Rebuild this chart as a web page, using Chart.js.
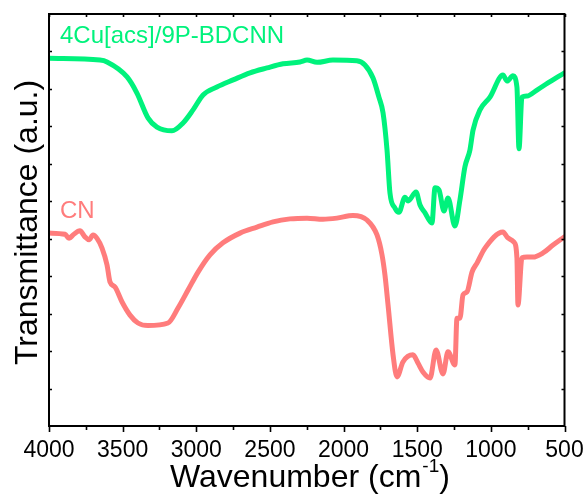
<!DOCTYPE html>
<html lang="en">
<head>
  <meta charset="utf-8">
  <title>FTIR</title>
  <script src="https://cdn.jsdelivr.net/npm/chart.js"></script>
  <style>
    body { margin: 0; background: #fff; }
  </style>
</head>
<body>
  <canvas id="ftir" width="587" height="495"></canvas>
<script>
  // FTIR spectra, wavenumber (cm-1) vs. offset transmittance
  const wnCu = [4000, 3654, 3606, 3470, 3403, 3327, 3267, 3165, 3090, 3022,
    2954, 2860, 2750, 2635, 2520, 2411, 2296, 2248, 2180, 2072,
    1910, 1855, 1800, 1760, 1732, 1705, 1685, 1651, 1624, 1583,
    1562, 1508, 1481, 1447, 1400, 1379, 1352, 1318, 1291, 1244,
    1210, 1176, 1142, 1121, 1074, 1006, 918, 890, 850, 823,
    809, 789, 755, 687, 612, 500];
  const tCu = [9.82, 9.77, 9.72, 9.32, 8.89, 8.22, 7.98, 7.88, 8.09, 8.44,
    8.84, 9.05, 9.24, 9.43, 9.56, 9.67, 9.72, 9.77, 9.71, 9.77,
    9.75, 9.64, 9.29, 8.78, 8.36, 7.37, 6.22, 5.82, 5.71, 6.11,
    6.01, 6.25, 5.90, 5.69, 5.42, 6.36, 6.30, 5.74, 6.09, 5.34,
    6.03, 6.92, 7.37, 7.90, 8.44, 8.78, 9.37, 9.21, 9.35, 9.05,
    7.40, 8.78, 8.81, 8.97, 9.16, 9.43];

  const wnCN = [4000, 3891, 3864, 3837, 3790, 3756, 3728, 3701, 3674, 3640,
    3606, 3586, 3552, 3504, 3450, 3396, 3328, 3192, 3124, 3056,
    2988, 2907, 2819, 2703, 2588, 2479, 2364, 2248, 2140, 2045,
    1936, 1841, 1773, 1739, 1719, 1698, 1664, 1637, 1597, 1529,
    1495, 1461, 1413, 1372, 1325, 1291, 1244, 1230, 1210, 1189,
    1162, 1128, 1094, 1040, 918, 884, 843, 823, 816, 789,
    755, 714, 646, 578, 500];
  const tCN = [5.15, 5.12, 5.01, 5.10, 5.21, 5.05, 4.97, 5.10, 5.01, 4.75,
    4.30, 3.85, 3.71, 3.31, 2.96, 2.75, 2.68, 2.75, 3.15, 3.63,
    4.11, 4.57, 4.89, 5.15, 5.31, 5.45, 5.53, 5.55, 5.52, 5.55,
    5.62, 5.50, 5.10, 4.57, 4.03, 3.23, 1.90, 1.31, 1.71, 1.90,
    1.68, 1.44, 1.28, 2.03, 1.39, 1.98, 1.63, 2.88, 2.88, 3.50,
    3.58, 4.11, 4.35, 4.75, 5.18, 5.02, 4.91, 4.49, 3.23, 4.49,
    4.51, 4.51, 4.62, 4.83, 5.05];

  const seriesNames = ['4Cu[acs]/9P-BDCNN', 'CN'];
  const xTickLabels = [4000, 3500, 3000, 2500, 2000, 1500, 1000, 500];

  const GREEN = '#00F27C';
  const RED = '#FF7C7C';
  const FONT = "'Liberation Sans', Arial, sans-serif";

  function toPoints(xs, ys) {
    return xs.map((x, i) => ({ x: x, y: ys[i] }));
  }

  // frame, tick marks, axis titles and curve labels
  const decorations = {
    id: 'decorations',
    afterDraw(chart) {
      const ctx = chart.ctx;
      const a = chart.chartArea;
      const xs = chart.scales.x;
      const ys = chart.scales.y;
      ctx.save();
      ctx.strokeStyle = '#000';
      ctx.lineWidth = 1.6;
      ctx.beginPath();
      for (let v = 500; v <= 4000; v += 250) {
        const px = Math.round(xs.getPixelForValue(v)) + 0.5;
        ctx.moveTo(px, a.top);
        ctx.lineTo(px, a.top + 3);
        ctx.moveTo(px, a.bottom);
        ctx.lineTo(px, a.bottom + (v % 500 === 0 ? 6 : 4));
      }
      for (let k = 1; k < 11; k++) {
        const py = Math.round(ys.getPixelForValue(k)) + 0.5;
        ctx.moveTo(a.left, py);
        ctx.lineTo(a.left + 3, py);
        ctx.moveTo(a.right, py);
        ctx.lineTo(a.right - 3, py);
      }
      ctx.stroke();
      ctx.lineWidth = 2;
      ctx.strokeRect(a.left, a.top, a.right - a.left, a.bottom - a.top);

      // curve labels
      ctx.textBaseline = 'alphabetic';
      ctx.textAlign = 'left';
      ctx.font = '24px ' + FONT;
      ctx.fillStyle = GREEN;
      ctx.fillText(seriesNames[0], 60, 43);
      ctx.fillStyle = RED;
      ctx.fillText(seriesNames[1], 60, 218);

      // x title with superscript
      ctx.fillStyle = '#000';
      ctx.font = '32px ' + FONT;
      let x = 170;
      const base = 487;
      const t1 = 'Wavenumber (cm';
      ctx.fillText(t1, x, base);
      x += ctx.measureText(t1).width;
      ctx.font = '19px ' + FONT;
      ctx.fillText('-1', x + 1, base - 15);
      x += ctx.measureText('-1').width + 1;
      ctx.font = '32px ' + FONT;
      ctx.fillText(')', x, base);

      // y title
      ctx.translate(37, 365);
      ctx.rotate(-Math.PI / 2);
      ctx.fillText('Transmittance (a.u.)', 0, 0);
      ctx.restore();
    }
  };

  const config = {
    type: 'line',
    data: {
      datasets: [
        {
          label: seriesNames[0],
          data: toPoints(wnCu, tCu),
          borderColor: GREEN,
          borderWidth: 5,
          pointRadius: 0,
          cubicInterpolationMode: 'monotone',
          borderJoinStyle: 'round',
          borderCapStyle: 'round'
        },
        {
          label: seriesNames[1],
          data: toPoints(wnCN, tCN),
          borderColor: RED,
          borderWidth: 5,
          pointRadius: 0,
          cubicInterpolationMode: 'monotone',
          borderJoinStyle: 'round',
          borderCapStyle: 'round'
        }
      ]
    },
    options: {
      responsive: false,
      animation: false,
      events: [],
      layout: { padding: { left: 49, right: 22.5, top: 14, bottom: 0 } },
      plugins: { legend: { display: false }, tooltip: { enabled: false } },
      scales: {
        x: {
          type: 'linear',
          reverse: true,
          min: 500,
          max: 4000,
          grid: { display: false, drawTicks: false },
          border: { display: false },
          afterBuildTicks: (s) => { s.ticks = xTickLabels.map(v => ({ value: v })); },
          afterFit: (s) => {
            s.height = 69;
            s.paddingLeft = 0;
            s.paddingRight = 0;
          },
          ticks: {
            padding: 11,
            maxRotation: 0,
            autoSkip: false,
            color: '#000',
            font: { family: FONT, size: 23 },
            callback: (v) => String(v)
          }
        },
        y: {
          display: false,
          min: 0,
          max: 11
        }
      }
    },
    plugins: [decorations]
  };

  const ftirChart = new Chart(document.getElementById('ftir'), config);
</script>
</body>
</html>
